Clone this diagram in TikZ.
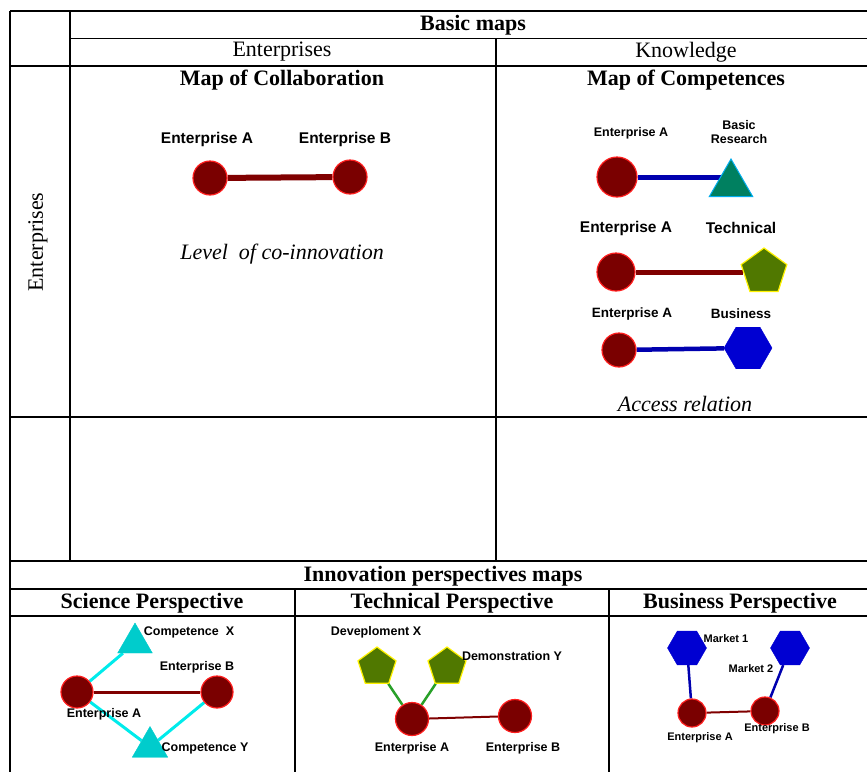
\documentclass[tikz,border=0pt]{standalone}
\usepackage{fontspec}
\setmainfont{Liberation Serif}
\setsansfont{Liberation Sans}
\usepackage{tikz}
\usetikzlibrary{shapes.geometric}
\usetikzlibrary{backgrounds}
\definecolor{entfill}{RGB}{122,0,0}
\definecolor{entedge}{RGB}{255,30,30}
\definecolor{linkred}{RGB}{128,0,0}
\definecolor{linkblue}{RGB}{0,0,175}
\definecolor{resfill}{RGB}{0,128,96}
\definecolor{techfill}{RGB}{80,120,0}
\definecolor{busfill}{RGB}{0,0,210}
\definecolor{scifill}{RGB}{0,204,204}
\definecolor{sciline}{RGB}{0,235,235}
\definecolor{techline}{RGB}{40,160,40}
\tikzstyle{grid} = [line width=1.8pt]
\tikzstyle{gridthin} = [line width=1pt]
\tikzstyle{head} = [font=\fontsize{22}{24}\selectfont\bfseries, inner sep=0pt]
\tikzstyle{col} = [font=\fontsize{22}{24}\selectfont, inner sep=0pt]
\tikzstyle{note} = [font=\fontsize{22}{24}\selectfont\itshape, inner sep=0pt]
\tikzstyle{lblL} = [font=\sffamily\bfseries\fontsize{15.5}{17}\selectfont, inner sep=0pt]
\tikzstyle{lblM} = [font=\sffamily\bfseries\fontsize{13.5}{14}\selectfont, inner sep=0pt, align=center]
\tikzstyle{lblS} = [font=\sffamily\bfseries\fontsize{12.5}{14}\selectfont, inner sep=0pt]
\tikzstyle{lblXS} = [font=\sffamily\bfseries\fontsize{11}{12}\selectfont, inner sep=0pt]
\tikzstyle{ent} = [circle, draw=entedge, fill=entfill, line width=1.2pt, inner sep=0pt]
\tikzstyle{research} = [regular polygon, regular polygon sides=3, draw=cyan, fill=resfill, line width=1pt, inner sep=0pt]
\tikzstyle{competence} = [regular polygon, regular polygon sides=3, draw=scifill, fill=scifill, inner sep=0pt]
\tikzstyle{tech} = [regular polygon, regular polygon sides=5, draw=yellow, fill=techfill, line width=1.2pt, inner sep=0pt]
\tikzstyle{market} = [regular polygon, regular polygon sides=6, draw=busfill, fill=busfill, inner sep=0pt]
\tikzstyle{redlink} = [draw=linkred]
\tikzstyle{bluelink} = [draw=linkblue]

\begin{document}
\begin{tikzpicture}[x=1pt,y=-1pt]
    \useasboundingbox (0,0) rectangle (867,772);
    % table
    \draw [grid] (10,11) -- (867,11);
    \draw [grid] (10,11) -- (10,772);
    \draw [grid] (70,11) -- (70,561);
    \draw [gridthin] (70,38) -- (867,38);
    \draw [grid] (10,66) -- (867,66);
    \draw [grid] (496,38) -- (496,561);
    \draw [grid] (10,417) -- (867,417);
    \draw [grid] (10,561) -- (867,561);
    \draw [grid] (10,589) -- (867,589);
    \draw [grid] (10,616) -- (867,616);
    \draw [grid] (295,589) -- (295,772);
    \draw [grid] (609,589) -- (609,772);

    \node [head] (basic) at (473,25) {Basic maps};
    \node [col] (colent) at (282,52) {Enterprises};
    \node [col] (colknow) at (686,52) {Knowledge};
    \node [col, rotate=90] (rowent) at (38,242) {Enterprises};
    \node [head] (mapcollab) at (282,80) {Map of Collaboration};
    \node [head] (mapcomp) at (686,80) {Map of Competences};
    \node [head] (innov) at (443,576) {Innovation perspectives maps};
    \node [head] (science) at (152,603) {Science Perspective};
    \node [head] (technical) at (452,603) {Technical Perspective};
    \node [head] (business) at (740,603) {Business Perspective};

    % map of collaboration
    \node [ent, minimum size=34pt] (colA) at (210,178) {};
    \node [ent, minimum size=34pt] (colB) at (350,177) {};
    \node [lblL] (colAl) at (207,139) {Enterprise A};
    \node [lblL] (colBl) at (345,139) {Enterprise B};
    \node [note] (level) at (282,254) {Level\ \ of co-innovation};

    % map of competences
    \node [ent, minimum size=40pt] (cmpA1) at (617,177) {};
    \node [research, minimum size=50pt] (resB) at (731,184) {};
    \node [lblS] (cmpA1l) at (631,133) {Enterprise A};
    \node [lblS, align=center] (resBl) at (739,132) {Basic\\Research};

    \node [ent, minimum size=38pt] (cmpA2) at (616,272) {};
    \node [tech, minimum size=48pt] (techB) at (764,272) {};
    \node [lblL] (cmpA2l) at (626,228) {Enterprise A};
    \node [lblL] (techBl) at (741,228) {Technical};

    \node [ent, minimum size=34pt] (cmpA3) at (619,350) {};
    \node [market, minimum size=48pt] (busB) at (748,348) {};
    \node [lblM] (cmpA3l) at (632,314) {Enterprise A};
    \node [lblM] (busBl) at (741,314) {Business};
    \node [note] (access) at (685,404) {Access relation};

    % science perspective
    \node [ent, minimum size=32pt] (sciA) at (77,692) {};
    \node [ent, minimum size=32pt] (sciB) at (217,692) {};
    \node [competence, minimum size=40pt] (compX) at (135,643) {};
    \node [competence, minimum size=41pt] (compY) at (150,747) {};
    \node [lblS] (compXl) at (189,632) {Competence\ \ X};
    \node [lblS] (sciBl) at (197,667) {Enterprise B};
    \node [lblS] (sciAl) at (104,714) {Enterprise A};
    \node [lblS] (compYl) at (205,748) {Competence Y};

    % technical perspective
    \node [ent, minimum size=33pt] (tecA) at (412,719) {};
    \node [ent, minimum size=33pt] (tecB) at (515,716) {};
    \node [tech, minimum size=40pt] (devX) at (377,667) {};
    \node [tech, minimum size=40pt] (demoY) at (447,667) {};
    \node [lblS] (devXl) at (376,632) {Deveploment X};
    \node [lblS] (demoYl) at (512,656) {Demonstration Y};
    \node [lblS] (tecAl) at (412,748) {Enterprise A};
    \node [lblS] (tecBl) at (523,748) {Enterprise B};

    % business perspective
    \node [ent, minimum size=28pt] (busA) at (692,713) {};
    \node [ent, minimum size=28pt] (busE) at (765,711) {};
    \node [market, minimum size=39pt] (mkt1) at (687,648) {};
    \node [market, minimum size=39pt] (mkt2) at (790,648) {};
    \node [lblXS] (mkt1l) at (726,639) {Market 1};
    \node [lblXS] (mkt2l) at (751,669) {Market 2};
    \node [lblXS] (busAl) at (700,738) {Enterprise A};
    \node [lblXS] (busEl) at (777,729) {Enterprise B};

    % links, behind the shapes
    \begin{scope}[on background layer]
    \draw [redlink, line width=6pt] (colA) -- (colB);
    \draw [bluelink, line width=5pt] (cmpA1) -- (cmpA1 -| resB);
    \draw [redlink, line width=5pt] (cmpA2) -- (techB);
    \draw [bluelink, line width=4.5pt] (cmpA3) -- (busB);
    \draw [sciline, line width=3pt] (sciA) -- (compX);
    \draw [sciline, line width=3pt] (sciA) -- (compY);
    \draw [sciline, line width=3pt] (sciB) -- (compY);
    \draw [redlink, line width=3pt] (sciA) -- (sciB);
    \draw [techline, line width=2.5pt] (devX) -- (tecA);
    \draw [techline, line width=2.5pt] (demoY) -- (tecA);
    \draw [redlink, line width=2pt] (tecA) -- (tecB);
    \draw [bluelink, line width=2.5pt] (mkt1) -- (busA);
    \draw [bluelink, line width=2.5pt] (mkt2) -- (busE);
    \draw [redlink, line width=2pt] (busA) -- (busE);
    \end{scope}
\end{tikzpicture}
\end{document}
